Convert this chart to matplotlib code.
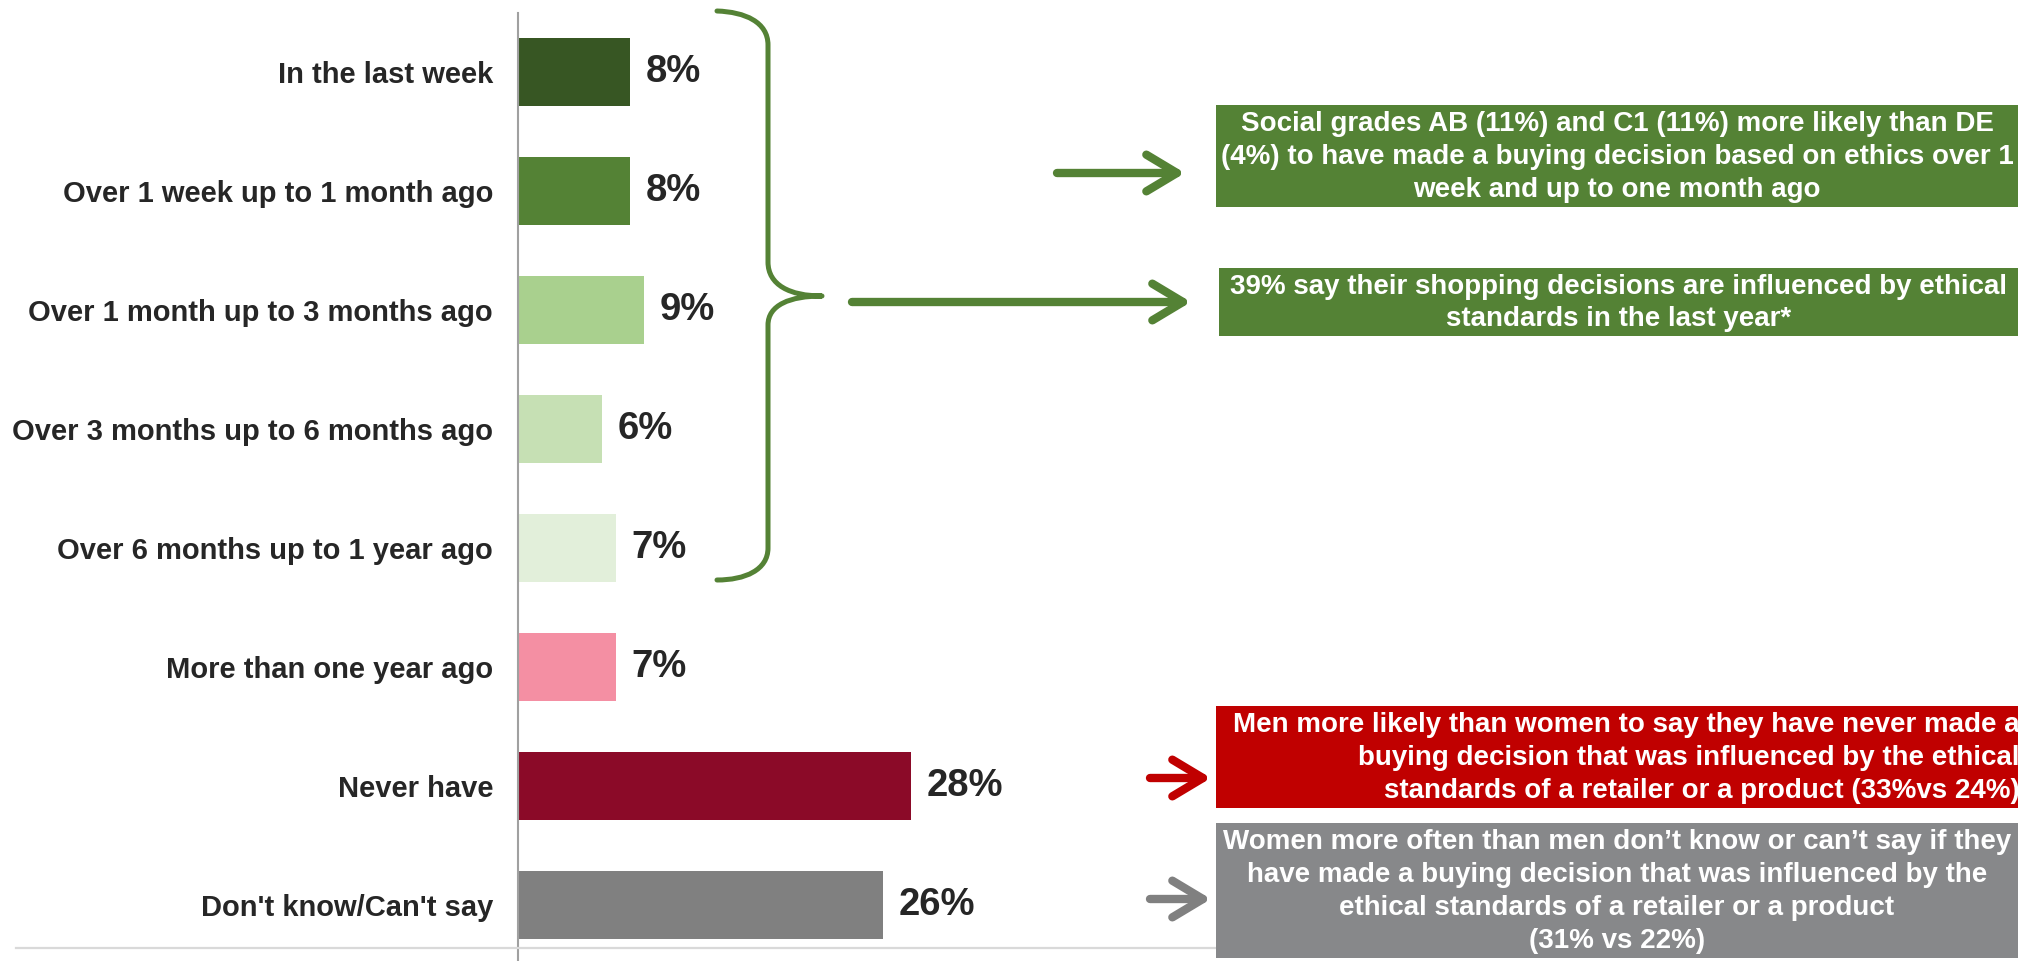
import matplotlib
matplotlib.use("Agg")
import matplotlib.pyplot as plt
from matplotlib.patches import Rectangle, FancyArrowPatch, PathPatch
from matplotlib.path import Path
from matplotlib.lines import Line2D

plt.rcParams['font.family'] = ['Liberation Sans', 'DejaVu Sans']

# data
categories = ["In the last week", "Over 1 week up to 1 month ago",
              "Over 1 month up to 3 months ago", "Over 3 months up to 6 months ago",
              "Over 6 months up to 1 year ago", "More than one year ago",
              "Never have", "Don't know/Can't say"]
values = [8, 8, 9, 6, 7, 7, 28, 26]
bar_colors = ["#375623", "#548235", "#A9D08E", "#C6E0B4", "#E2EFDA",
              "#F48FA3", "#8B0A28", "#808080"]

notes = [
    "Social grades AB (11%) and C1 (11%) more likely than DE\n"
    "(4%) to have made a buying decision based on ethics over 1\n"
    "week and up to one month ago",
    "39% say their shopping decisions are influenced by ethical\n"
    "standards in the last year*",
    "Men more likely than women to say they have never made a\n"
    "buying decision that was influenced by the ethical\n"
    "standards of a retailer or a product (33%vs 24%)",
    "Women more often than men don\u2019t know or can\u2019t say if they\n"
    "have made a buying decision that was influenced by the\n"
    "ethical standards of a retailer or a product\n"
    "(31% vs 22%)",
]
note_colors = ["#548235", "#548235", "#C00000", "#87888A"]
note_align = ["center", "center", "right", "center"]

W, H = 2022, 961
TXT = "#262626"
fig = plt.figure(figsize=(W / 100, H / 100), dpi=100)

# bar axes, pixel layout
ax_l, ax_r, ax_t, ax_b = 518, 1216, 13, 961
ax = fig.add_axes([ax_l / W, 1 - ax_b / H, (ax_r - ax_l) / W, (ax_b - ax_t) / H])
ax.set_xlim(0, (ax_r - ax_l) / 14.05)
ax.set_ylim(7.47, -0.496)
ax.patch.set_alpha(0)

y = list(range(len(categories)))
ax.barh(y, values, height=0.57, color=bar_colors, zorder=2)
for yi, v in zip(y, values):
    ax.annotate(f"{v}%", (v, yi), xytext=(11, 0), textcoords="offset points",
                ha="left", va="center", fontsize=27.5, fontweight="bold", color=TXT)

ax.set_yticks(y)
ax.set_yticklabels(categories, fontsize=21, fontweight="bold", color=TXT)
ax.tick_params(axis="y", length=0, pad=18)
ax.set_xticks([])
for s in ["top", "right", "bottom"]:
    ax.spines[s].set_visible(False)
ax.spines["left"].set_color("#A0A0A0")
ax.spines["left"].set_linewidth(1.5)

# overlay in pixel coordinates for annotations
ov = fig.add_axes([0, 0, 1, 1], zorder=3)
ov.set_xlim(0, W)
ov.set_ylim(H, 0)
ov.axis("off")
ov.patch.set_alpha(0)

ov.add_line(Line2D([16, 1216], [948, 948], color="#D9D9D9", lw=1.6, zorder=1))

# brace
verts = [(717, 11), (745, 12), (768, 22), (768, 45),
         (768, 262),
         (768, 285), (790, 296), (822, 296),
         (790, 296), (768, 305), (768, 325),
         (768, 548),
         (768, 570), (745, 580), (717, 580)]
codes = [Path.MOVETO, Path.CURVE4, Path.CURVE4, Path.CURVE4,
         Path.LINETO,
         Path.CURVE4, Path.CURVE4, Path.CURVE4,
         Path.CURVE4, Path.CURVE4, Path.CURVE4,
         Path.LINETO,
         Path.CURVE4, Path.CURVE4, Path.CURVE4]
ov.add_patch(PathPatch(Path(verts, codes), fill=False, edgecolor="#548235",
                       lw=3.6, capstyle="round", joinstyle="round"))

# arrows
arrows = [((1057, 173), (1185, 173), "#548235"),
          ((852, 302), (1191, 302), "#548235"),
          ((1150, 778), (1211, 778), "#C00000"),
          ((1150, 899), (1211, 899), "#808080")]
for a, b, c in arrows:
    ar = FancyArrowPatch(a, b, arrowstyle="->,head_length=0.55,head_width=0.33",
                         mutation_scale=40, lw=6, color=c, shrinkA=0, shrinkB=0,
                         capstyle="round", joinstyle="round")
    ov.add_patch(ar)

# note boxes
boxes = [(1216, 105, 2018, 207), (1219, 268, 2018, 336),
         (1216, 706, 2018, 808), (1216, 823, 2018, 958)]
for (x0, y0, x1, y1), txt, col, al in zip(boxes, notes, note_colors, note_align):
    ov.add_patch(Rectangle((x0, y0), x1 - x0, y1 - y0, facecolor=col,
                           edgecolor="none", zorder=2))
    tx = (x0 + x1) / 2 if al == "center" else x1 + 2
    ov.text(tx, (y0 + y1) / 2 + 1, txt, ha=al, va="center", ma=al,
            fontsize=20, fontweight="bold", color="white", linespacing=1.35,
            zorder=3)

fig.savefig("out.png", dpi=100)
